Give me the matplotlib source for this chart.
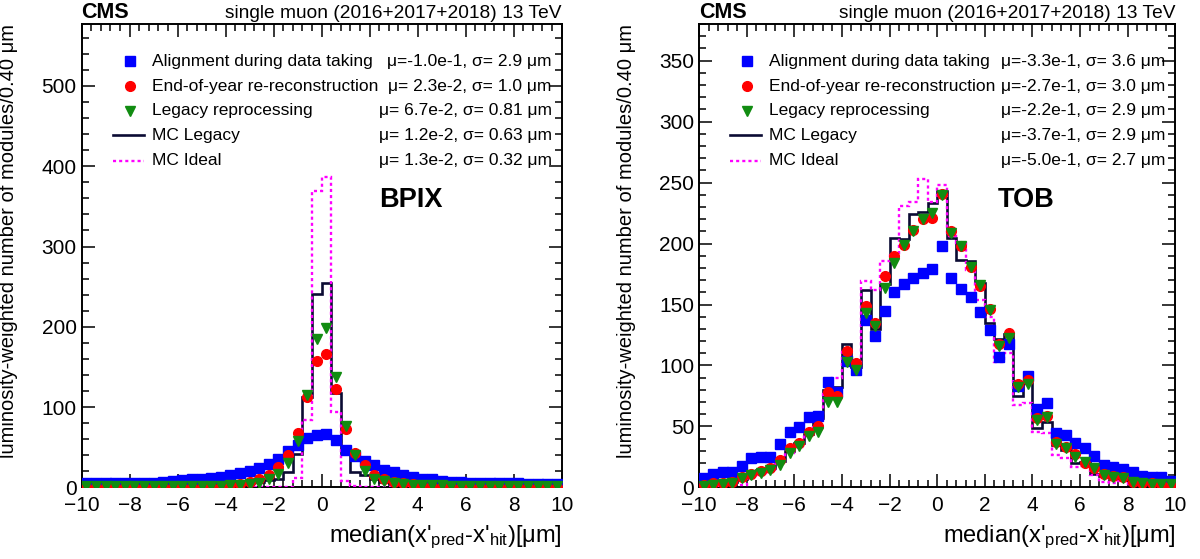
import matplotlib
matplotlib.use("Agg")
import matplotlib.pyplot as plt
import numpy as np
from matplotlib.ticker import MultipleLocator

plt.rcParams["font.family"] = ["Liberation Sans", "DejaVu Sans"]
plt.rcParams["mathtext.fontset"] = "custom"
plt.rcParams["mathtext.rm"] = "Liberation Sans"
plt.rcParams["mathtext.it"] = "Liberation Sans:italic"

# 50 bins of 0.40 um between -10 and 10
BIN_EDGES = np.linspace(-10, 10, 51)
BIN_CENTERS = 0.5 * (BIN_EDGES[:-1] + BIN_EDGES[1:])

LABELS = ["Alignment during data taking", "End-of-year re-reconstruction",
          "Legacy reprocessing", "MC Legacy", "MC Ideal"]

# ---- BPIX ----
bpix_online = [5, 5, 5, 5, 5, 5.5, 6, 6, 7, 8, 9, 10, 11, 12, 13, 15, 18, 21, 24, 29,
               36, 46, 53, 62, 65, 66, 59, 47, 39, 33, 28, 22, 19, 16, 13, 11, 10, 8, 7, 6.5,
               6, 6, 5.5, 5, 5, 5, 4.5, 4.5, 4.5, 4.5]
bpix_eoy = [0.5, 0.5, 0.5, 0.5, 0.5, 0.5, 0.5, 0.5, 0.5, 0.5, 0.5, 0.5, 0.5, 0.5, 1.5, 2.5, 4, 7, 10, 15,
            25, 40, 68, 112, 157, 166, 123, 73, 43, 27.5, 16, 10, 7, 5, 4, 3, 2, 1, 0.5, 0.5,
            0.5, 0.5, 0.5, 0.5, 0.5, 0.5, 0.5, 0.5, 0.5, 0.5]
bpix_legacy = [1.5, 1.5, 1.5, 1.5, 1.5, 1.5, 1.5, 1.5, 1.5, 1.5, 1.5, 1.5, 1.5, 1.5, 2, 2.5, 3, 4, 5, 11,
               17, 30, 58, 115, 185, 198, 137, 77, 41, 21, 11, 8, 6, 4, 3.5, 3, 2.5, 2.5, 2, 2,
               2, 2, 2, 2, 2, 2, 2, 2, 2, 2]
bpix_mc_legacy = [0, 0, 0, 0, 0, 0, 0, 0, 0, 0, 0.5, 1, 1.5, 2, 3, 4, 5, 6, 7, 9,
                  11, 19, 42, 113, 241, 255, 117, 43, 19, 15, 10, 7, 6, 4, 3, 2, 1.5, 1, 0.5, 0,
                  0, 0, 0, 0, 0, 0, 0, 0, 0, 0]
bpix_mc_ideal = [0, 0, 0, 0, 0, 0, 0, 0, 0, 0, 0, 0, 0, 0, 0, 0, 0, 0, 0, 0,
                 0, 1, 12, 84, 369, 386, 94, 8, 2, 0, 0, 0, 0, 0, 0, 0, 0, 0, 0, 0,
                 0, 0, 0, 0, 0, 0, 0, 0, 0, 0]
bpix_stats = ["\u03bc=-1.0e-1, \u03c3= 2.9 \u03bcm", "\u03bc= 2.3e-2, \u03c3= 1.0 \u03bcm",
              "\u03bc= 6.7e-2, \u03c3= 0.81 \u03bcm", "\u03bc= 1.2e-2, \u03c3= 0.63 \u03bcm",
              "\u03bc= 1.3e-2, \u03c3= 0.32 \u03bcm"]

# ---- TOB ----
tob_online = [7.4, 11, 12.3, 12.3, 17.8, 23.8, 24.7, 24.7, 35.6, 45.8, 49.3, 57.5, 58.6, 86.8, 78.6, 104, 96.4, 137.5, 123.8, 145,
              160, 167, 172, 176, 179, 198, 172, 163, 156, 144, 129, 107, 118, 83, 91.5, 64, 69, 45, 43, 36.5,
              32.7, 26, 18, 17, 15, 12.3, 9, 8.2, 8.2, 5.5]
tob_eoy = [2, 3.3, 3.8, 4.7, 8.8, 11, 13.7, 15.6, 22.5, 32, 36.7, 45.8, 50.7, 78.6, 75, 111.5, 102, 149, 134.8, 173,
           190, 199, 210.7, 220, 221, 241, 210, 198, 181, 165.5, 146, 117.8, 126.6, 84.7, 87.7, 56.7, 58.6, 37.5, 33.4, 27.4,
           19.7, 16.2, 11, 9.3, 8.2, 4.7, 3.3, 3.3, 2.7, 1]
tob_legacy = [1, 2, 2.7, 4, 7.4, 10, 12, 14, 18.4, 28.5, 34, 42.5, 45.8, 70.4, 70.4, 103, 96.4, 143, 132.6, 163.6,
              184, 199, 210, 220, 225, 240, 209, 198, 181, 166, 145.7, 116, 122.5, 82, 85, 55, 57.5, 36, 32, 25,
              21, 15.6, 10, 8.8, 7.4, 4.7, 3.3, 2.7, 2.7, 2.7]
tob_mc_legacy = [2, 2.7, 4, 4.7, 6.6, 13.4, 14, 15.6, 22, 30, 36.7, 43.5, 56.7, 79.5, 82, 117.8, 99, 162, 130, 167,
                 204.6, 204, 224, 225.8, 233, 243, 204.7, 186.8, 185.5, 167.7, 134.8, 121.6, 126, 75, 86, 49, 54, 34.8, 30.7, 19.7,
                 20.5, 11, 9.3, 7.4, 6, 3.3, 2.7, 2, 2, 2]
tob_mc_ideal = [1, 1, 1.5, 2, 2, 7.4, 10, 13, 19.7, 28, 33.4, 44, 55.9, 77, 89.6, 113, 99, 169, 162, 185.5,
                192, 230.7, 234, 253, 234, 247.7, 206, 200.5, 178.6, 154, 140, 103, 110, 67.7, 69, 45.8, 45, 26.6, 23.8, 17,
                17.5, 10, 4.7, 3.3, 5.5, 2.7, 2, 1, 1, 1]
tob_stats = ["\u03bc=-3.3e-1, \u03c3= 3.6 \u03bcm", "\u03bc=-2.7e-1, \u03c3= 3.0 \u03bcm",
             "\u03bc=-2.2e-1, \u03c3= 2.9 \u03bcm", "\u03bc=-3.7e-1, \u03c3= 2.9 \u03bcm",
             "\u03bc=-5.0e-1, \u03c3= 2.7 \u03bcm"]

BLUE = "#0000ff"
RED = "#ff0000"
GREEN = "#118c11"
NAVY = "#0b0b33"
MAGENTA = "#ff00ff"
DOTS = (0, (1.3, 1.3))


def draw_panel(ax, online, eoy, legacy, mc_legacy, mc_ideal, stats, det, ymax, major, minor):
    ax.stairs(mc_legacy, BIN_EDGES, color=NAVY, lw=1.9, zorder=3)
    ax.stairs(mc_ideal, BIN_EDGES, color=MAGENTA, lw=1.7, ls=DOTS, zorder=3)
    ax.plot(BIN_CENTERS, online, ls="none", marker="s", ms=6.6, color=BLUE, mec=BLUE, zorder=4)
    ax.plot(BIN_CENTERS, eoy, ls="none", marker="o", ms=7.0, color=RED, mec=RED, zorder=5)
    ax.plot(BIN_CENTERS, legacy, ls="none", marker="v", ms=7.0, color=GREEN, mec=GREEN, zorder=6)

    ax.set_xlim(-10, 10)
    ax.set_ylim(0, ymax)
    ax.xaxis.set_major_locator(MultipleLocator(2))
    ax.xaxis.set_minor_locator(MultipleLocator(0.4))
    ax.yaxis.set_major_locator(MultipleLocator(major))
    ax.yaxis.set_minor_locator(MultipleLocator(minor))
    ax.tick_params(which="both", direction="in", top=True, right=True, labelsize=15, width=1.1)
    ax.tick_params(which="major", length=9.5)
    ax.tick_params(which="minor", length=4.7)
    ax.tick_params(axis="x", pad=6.5)
    ax.tick_params(axis="y", pad=3.5)
    for sp in ax.spines.values():
        sp.set_linewidth(1.4)

    ax.set_xlabel("median(x'$_{\\mathrm{pred}}$-x'$_{\\mathrm{hit}}$)[\u03bcm]", fontsize=17, loc="right")
    ax.xaxis.set_label_coords(1.0, -0.078)
    ax.set_ylabel("luminosity-weighted number of modules/0.40 \u03bcm", fontsize=14.5, loc="top")
    ax.yaxis.set_label_coords(-0.133, 1.0)

    ax.text(0.0, 1.013, "CMS", transform=ax.transAxes, fontsize=15.5, fontweight="bold",
            ha="left", va="baseline")
    ax.text(1.0, 1.013, "single muon (2016+2017+2018) 13 TeV", transform=ax.transAxes,
            fontsize=13.8, ha="right", va="baseline")
    ax.text(0.687, 0.62, det, transform=ax.transAxes, fontsize=19.5, fontweight="bold",
            ha="center", va="center")

    # legend
    rows = [0.920, 0.866, 0.813, 0.760, 0.705]
    styles = [dict(marker="s", ms=6.6, color=BLUE, ls="none"),
              dict(marker="o", ms=7.0, color=RED, ls="none"),
              dict(marker="v", ms=7.0, color=GREEN, ls="none")]
    for y, st in zip(rows[:3], styles):
        ax.plot([0.1], [y], transform=ax.transAxes, clip_on=False, **st)
    ax.plot([0.065, 0.13], [rows[3]] * 2, transform=ax.transAxes, color=NAVY, lw=1.9)
    ax.plot([0.065, 0.13], [rows[4]] * 2, transform=ax.transAxes, color=MAGENTA, lw=1.7, ls=DOTS)
    for y, lab, st in zip(rows, LABELS, stats):
        ax.text(0.146, y, lab, transform=ax.transAxes, fontsize=12.5, ha="left", va="center")
        ax.text(0.979, y, st, transform=ax.transAxes, fontsize=12.5, ha="right", va="center")


fig = plt.figure(figsize=(12, 5.59), dpi=100)
ax1 = fig.add_axes([0.068, 0.128, 0.400, 0.829])
ax2 = fig.add_axes([0.5825, 0.128, 0.397, 0.829])

draw_panel(ax1, bpix_online, bpix_eoy, bpix_legacy, bpix_mc_legacy, bpix_mc_ideal,
           bpix_stats, "BPIX", 577, 100, 20)
draw_panel(ax2, tob_online, tob_eoy, tob_legacy, tob_mc_legacy, tob_mc_ideal,
           tob_stats, "TOB", 380, 50, 10)

fig.savefig("out.png", dpi=100)
